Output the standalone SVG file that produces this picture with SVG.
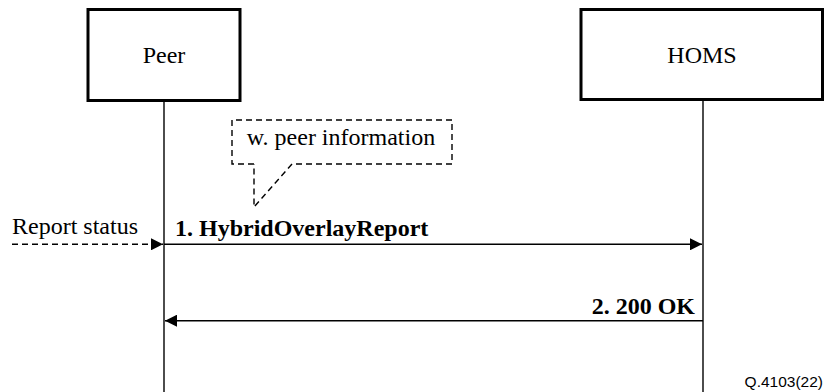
<svg xmlns="http://www.w3.org/2000/svg" width="826" height="392" viewBox="0 0 826 392">
  <style>
    .box { fill: #fff; stroke: #000; stroke-width: 3; }
    .life { stroke: #000; stroke-width: 1.4; fill: none; }
    .msg { stroke: #000; stroke-width: 1.5; fill: none; }
    .dash { stroke: #000; stroke-width: 1.4; fill: none; stroke-dasharray: 6 4; }
    .lbl { font-family: "Liberation Serif", "Times New Roman", serif; font-size: 24px; fill: #000; }
    .bold { font-weight: bold; }
    .tag { font-family: "Liberation Sans", Arial, sans-serif; font-size: 15.5px; fill: #000; }
  </style>
  <defs>
    <marker id="head" viewBox="0 0 12 12" refX="12" refY="6" markerWidth="12" markerHeight="12" markerUnits="userSpaceOnUse" orient="auto">
      <path d="M0,0 L12,6 L0,12 Z" fill="#000"/>
    </marker>
  </defs>

  <g id="peer">
    <rect class="box" x="88" y="9.5" width="152" height="91"/>
    <text class="lbl" x="164" y="63" text-anchor="middle">Peer</text>
  </g>

  <g id="homs">
    <rect class="box" x="581" y="9.5" width="241.5" height="90"/>
    <text class="lbl" x="702" y="63" text-anchor="middle">HOMS</text>
  </g>

  <g id="note">
    <path class="dash" d="M254,164 L232,164 L232,120 L452,120 L452,164 L292,164 L254,207 L254,164"/>
    <text class="lbl" x="341" y="145" text-anchor="middle">w. peer information</text>
  </g>

  <g id="connectors">
    <line class="life" x1="164" y1="100" x2="164" y2="392"/>
    <line class="life" x1="703" y1="99" x2="703" y2="392"/>
    <line class="dash" x1="12" y1="244.3" x2="163" y2="244.3" marker-end="url(#head)"/>
    <line class="msg" x1="164" y1="244.3" x2="702" y2="244.3" marker-end="url(#head)"/>
    <line class="msg" x1="703" y1="320.7" x2="165" y2="320.7" marker-end="url(#head)"/>
  </g>

  <g id="labels">
    <text class="lbl" x="12" y="234">Report status</text>
    <text class="lbl bold" x="175" y="236">1. HybridOverlayReport</text>
    <text class="lbl bold" x="695" y="314" text-anchor="end">2. 200 OK</text>
    <text class="tag" x="823" y="387" text-anchor="end">Q.4103(22)</text>
  </g>
</svg>
